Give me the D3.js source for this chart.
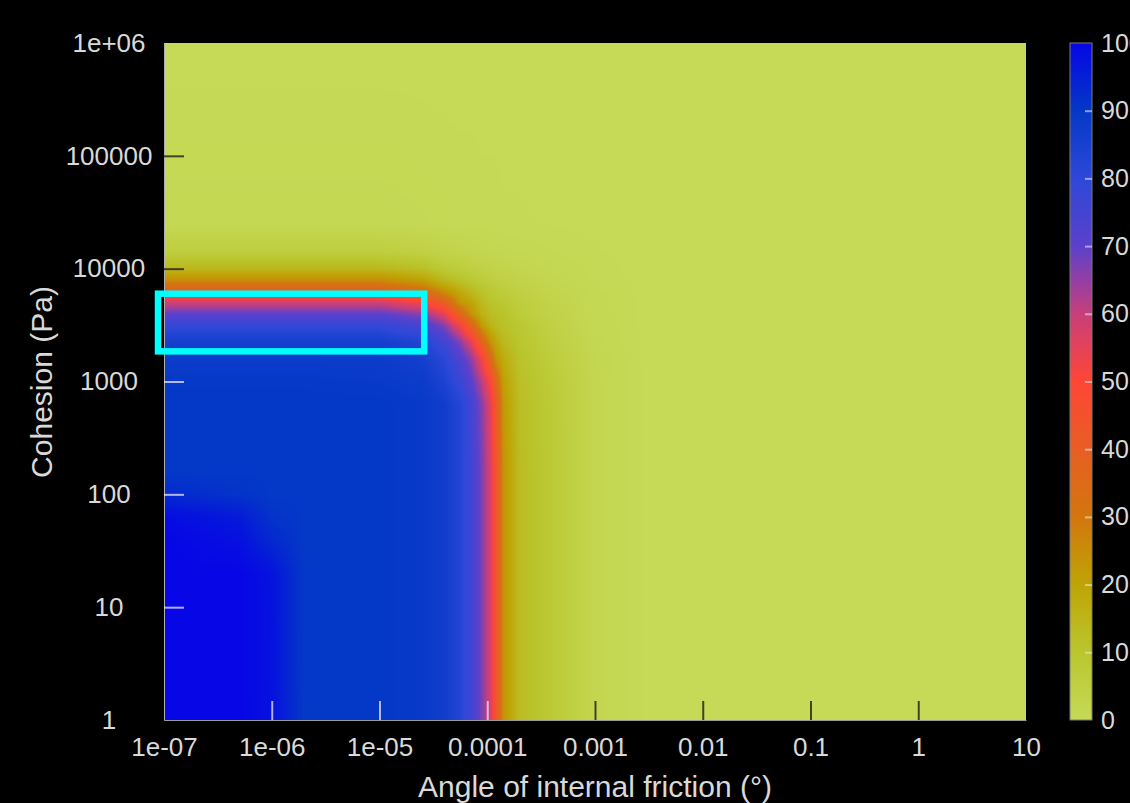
<!DOCTYPE html>
<html>
<head>
<meta charset="utf-8">
<script src="https://cdn.jsdelivr.net/npm/d3@7"></script>
<style>
  html, body { margin: 0; padding: 0; background: #000; overflow: hidden; }
  svg { display: block; }
  text { font-family: 'Liberation Sans', Arial, Helvetica, sans-serif; fill: #d9d9d9; }
</style>
</head>
<body>
<div id="chart"></div>
<script>
/*global d3*/
(function () {

'use strict';

// grid nodes, log10 of the axis values
var angleExp = [-7, -6.3, -6.0, -5.7, -5.0, -4.6, -4.4, -4.25, -4.15, -4.05, -3.97, -3.92, -3.85, -3.7, -3.4, -3.0, -2.5, 1];
var cohesionExp = [0, 1.3, 1.6, 1.8, 2.0, 2.2, 2.8, 3.0, 3.2, 3.35, 3.5, 3.6, 3.7, 3.76, 3.83, 3.9, 4.0, 4.15, 4.4, 6];

// one row per cohesion node, one value per angle node (colour bar units, 0-100)
var failure = [
  [100, 100, 98, 90, 90, 89, 87, 82, 76, 67, 57, 45, 24, 13, 8, 2, 0, 0],
  [100, 100, 97.5, 90, 90, 89, 87, 82, 76, 67, 57, 45, 24, 13, 8, 2, 0, 0],
  [100, 98, 93, 90, 90, 89, 87, 82, 76, 67, 57, 45, 24, 13, 8, 2, 0, 0],
  [99, 96, 91, 90, 90, 89, 87, 82, 76, 67, 57, 45, 24, 13, 8, 2, 0, 0],
  [93, 91, 90, 90, 90, 89, 87, 82, 76, 67, 57, 45, 24, 13, 8, 2, 0, 0],
  [90, 90, 90, 90, 90, 89, 87, 82, 76, 67, 57, 45, 24, 13, 8, 2, 0, 0],
  [90, 90, 90, 90, 90, 89, 87, 82, 75.5, 66, 55.5, 43, 23, 12.6, 7.9, 2, 0, 0],
  [89.5, 89.5, 89.5, 89.5, 89, 88, 84, 77.5, 71, 61, 50.5, 36, 21, 12, 7.5, 2, 0, 0],
  [88, 88, 88, 88, 88, 86, 81, 72.5, 65.5, 52.6, 35.5, 24, 18, 11, 6.5, 1.8, 0, 0],
  [86, 86, 86, 86, 86, 83, 76, 66, 56, 38, 24, 19, 14, 10, 5.5, 1.5, 0, 0],
  [78.5, 78.5, 78.5, 78.5, 78.5, 74, 66, 52, 37, 22, 15.5, 13.5, 11.5, 9, 4.5, 1.2, 0, 0],
  [70, 70, 70, 70, 70, 65.5, 55, 36, 24, 16, 12.5, 12, 11, 7, 4, 1, 0, 0],
  [58.5, 58.5, 58.5, 58.5, 58.5, 52, 39.5, 23, 20, 13.5, 11, 10, 9, 6.5, 3.5, 1, 0, 0],
  [48.5, 48.5, 48.5, 48.5, 48.5, 41, 30, 20, 16, 11.5, 9.5, 8.5, 7.5, 5.5, 3, 1, 0, 0],
  [35.5, 35.5, 35.5, 35.5, 35.5, 29.5, 21, 16, 12.5, 10, 8, 7, 6, 4.5, 2.5, 0.8, 0, 0],
  [25, 25, 25, 25, 25, 20.5, 14.5, 11, 9, 7, 6, 5.5, 5, 3.5, 2, 0.6, 0, 0],
  [14.5, 14.5, 14.5, 14.5, 14.5, 12, 8, 6.5, 5.5, 4.5, 4, 3.5, 3, 2.5, 1.5, 0.5, 0, 0],
  [6, 6, 6, 6, 6, 4.8, 3.5, 3, 2.5, 2, 1.8, 1.6, 1.5, 1.2, 0.8, 0.3, 0, 0],
  [1, 1, 1, 1, 1, 0.8, 0.6, 0.5, 0.5, 0.4, 0.4, 0.4, 0.3, 0.3, 0.2, 0.1, 0, 0],
  [0, 0, 0, 0, 0, 0, 0, 0, 0, 0, 0, 0, 0, 0, 0, 0, 0, 0]
];

var xTicks = [1e-7, 1e-6, 1e-5, 1e-4, 1e-3, 1e-2, 1e-1, 1, 10];
var xTickLabels = ['1e-07', '1e-06', '1e-05', '0.0001', '0.001', '0.01', '0.1', '1', '10'];
var yTicks = [1, 10, 100, 1000, 10000, 100000, 1e6];
var yTickLabels = ['1', '10', '100', '1000', '10000', '100000', '1e+06'];
var barTicks = [0, 10, 20, 30, 40, 50, 60, 70, 80, 90, 100];

// colour bar stops
var colorStops = [0, 10, 20, 30, 40, 50, 60, 70, 80, 90, 100];
var colorHex = ['#c6da58', '#bac62e', '#bfa406', '#d3760e', '#e85e24', '#ff4636',
                '#c83f7a', '#5c40cc', '#2d48d8', '#0438c6', '#0606e6'];

// highlighted box (angle range, cohesion range)
var boxAngle = [8.8e-8, 2.6e-5];
var boxCohesion = [1850, 6000];

var W = 1130, H = 803;
var plot = {left: 164, right: 1026, top: 43, bottom: 720};
var bar = {x: 1070, w: 22};

var x = d3.scaleLog().domain([1e-7, 10]).range([plot.left, plot.right]);
var y = d3.scaleLog().domain([1, 1e6]).range([plot.bottom, plot.top]);
var colour = d3.scaleLinear().domain(colorStops).range(colorHex).clamp(true);

function locate(nodes, v) {
  var i = Math.max(0, Math.min(nodes.length - 2, d3.bisectRight(nodes, v) - 1));
  var t = (v - nodes[i]) / (nodes[i + 1] - nodes[i]);
  return {i: i, t: Math.max(0, Math.min(1, t))};
}

function valueAt(a, c) {
  var cx = locate(angleExp, Math.log10(a)),
      cy = locate(cohesionExp, Math.log10(c));
  var lo = failure[cy.i], hi = failure[cy.i + 1];
  var vLo = lo[cx.i] * (1 - cx.t) + lo[cx.i + 1] * cx.t;
  var vHi = hi[cx.i] * (1 - cx.t) + hi[cx.i + 1] * cx.t;
  return vLo * (1 - cy.t) + vHi * cy.t;
}

var svg = d3.select('#chart').append('svg')
    .attr('width', W)
    .attr('height', H);

// heat map, drawn to a canvas then placed as an image
var pw = plot.right - plot.left, ph = plot.bottom - plot.top;
var canvas = document.createElement('canvas');
canvas.width = pw;
canvas.height = ph;
var ctx = canvas.getContext('2d');
var img = ctx.createImageData(pw, ph);

var lut = d3.range(1001).map(function(k) { return d3.rgb(colour(k / 10)); });

var cols = d3.range(pw).map(function(px) {
  return locate(angleExp, Math.log10(x.invert(plot.left + px + 0.5)));
});
var rows = d3.range(ph).map(function(py) {
  return locate(cohesionExp, Math.log10(y.invert(plot.top + py + 0.5)));
});

for (var py = 0; py < ph; py++) {
  var cy = rows[py], lo = failure[cy.i], hi = failure[cy.i + 1];
  for (var px = 0; px < pw; px++) {
    var cx = cols[px];
    var vLo = lo[cx.i] * (1 - cx.t) + lo[cx.i + 1] * cx.t;
    var vHi = hi[cx.i] * (1 - cx.t) + hi[cx.i + 1] * cx.t;
    var v = vLo * (1 - cy.t) + vHi * cy.t;
    var c = lut[Math.max(0, Math.min(1000, Math.round(v * 10)))];
    var o = (py * pw + px) * 4;
    img.data[o] = c.r;
    img.data[o + 1] = c.g;
    img.data[o + 2] = c.b;
    img.data[o + 3] = 255;
  }
}
ctx.putImageData(img, 0, 0);

svg.append('image')
    .attr('x', plot.left)
    .attr('y', plot.top)
    .attr('width', pw)
    .attr('height', ph)
    .attr('preserveAspectRatio', 'none')
    .attr('href', canvas.toDataURL());

function tickColor(v) {
  return v > 50 ? 'rgba(235,230,255,0.75)' : 'rgba(40,40,30,0.85)';
}

// x axis, ticks pointing into the plot
var xAxis = svg.append('g')
    .attr('transform', 'translate(0,' + plot.bottom + ')')
    .call(d3.axisBottom(x)
      .tickValues(xTicks)
      .tickFormat(function(d, i) { return xTickLabels[i]; })
      .tickSizeInner(-19)
      .tickSizeOuter(0)
      .tickPadding(18));

xAxis.select('.domain').attr('stroke', '#9a9a9a');
xAxis.selectAll('.tick line')
    .attr('stroke-width', 2)
    .attr('stroke', function(d) { return tickColor(valueAt(d, y.invert(plot.bottom - 10))); })
    .attr('opacity', function(d, i) { return i === 0 || i === xTicks.length - 1 ? 0 : 1; });
xAxis.selectAll('.tick text')
    .attr('fill', '#d9d9d9')
    .style('font-size', '26px');

// y axis
var yAxis = svg.append('g')
    .attr('transform', 'translate(' + plot.left + ',0)')
    .call(d3.axisLeft(y)
      .tickValues(yTicks)
      .tickFormat(function(d, i) { return yTickLabels[i]; })
      .tickSizeInner(-20)
      .tickSizeOuter(0));

yAxis.select('.domain').attr('stroke', '#b0b0b0');
yAxis.selectAll('.tick line')
    .attr('stroke-width', 2)
    .attr('stroke', function(d) { return tickColor(valueAt(x.invert(plot.left + 10), d)); })
    .attr('opacity', function(d, i) { return i === 0 || i === yTicks.length - 1 ? 0 : 1; });
yAxis.selectAll('.tick text')
    .attr('fill', '#d9d9d9')
    .attr('text-anchor', 'middle')
    .attr('x', 109 - plot.left)
    .style('font-size', '26px');

// highlight box
svg.append('rect')
    .attr('x', x(boxAngle[0]))
    .attr('y', y(boxCohesion[1]))
    .attr('width', x(boxAngle[1]) - x(boxAngle[0]))
    .attr('height', y(boxCohesion[0]) - y(boxCohesion[1]))
    .attr('fill', 'none')
    .attr('stroke', '#00ffff')
    .attr('stroke-width', 6.5);

// axis titles
svg.append('text')
    .attr('x', (plot.left + plot.right) / 2)
    .attr('y', 797)
    .attr('text-anchor', 'middle')
    .style('font-size', '30px')
    .text('Angle of internal friction (°)');

svg.append('text')
    .attr('transform', 'translate(52,' + 382 + ') rotate(-90)')
    .attr('text-anchor', 'middle')
    .style('font-size', '30px')
    .text('Cohesion (Pa)');

// colour bar
var grad = svg.append('defs').append('linearGradient')
    .attr('id', 'bar-grad')
    .attr('x1', 0).attr('y1', 1)
    .attr('x2', 0).attr('y2', 0);

grad.selectAll('stop')
    .data(colorStops)
    .enter()
    .append('stop')
    .attr('offset', function(d) { return d / 100; })
    .attr('stop-color', function(d, i) { return colorHex[i]; });

var barScale = d3.scaleLinear().domain([0, 100]).range([plot.bottom, plot.top]);

svg.append('rect')
    .attr('x', bar.x)
    .attr('y', plot.top)
    .attr('width', bar.w)
    .attr('height', ph)
    .attr('fill', 'url(#bar-grad)')
    .attr('stroke', '#7a7a7a')
    .attr('stroke-width', 1);

var barAxis = svg.append('g')
    .attr('transform', 'translate(' + (bar.x + bar.w) + ',0)')
    .call(d3.axisRight(barScale)
      .tickValues(barTicks)
      .tickSizeInner(-7)
      .tickSizeOuter(0)
      .tickPadding(9));

barAxis.select('.domain').remove();
barAxis.selectAll('.tick line')
    .attr('stroke', 'rgba(230,230,230,0.6)')
    .attr('stroke-width', 2)
    .attr('opacity', function(d) { return d === 0 || d === 100 ? 0 : 1; });
barAxis.selectAll('.tick text')
    .attr('fill', '#d9d9d9')
    .style('font-size', '25px');

})();
</script>
</body>
</html>
